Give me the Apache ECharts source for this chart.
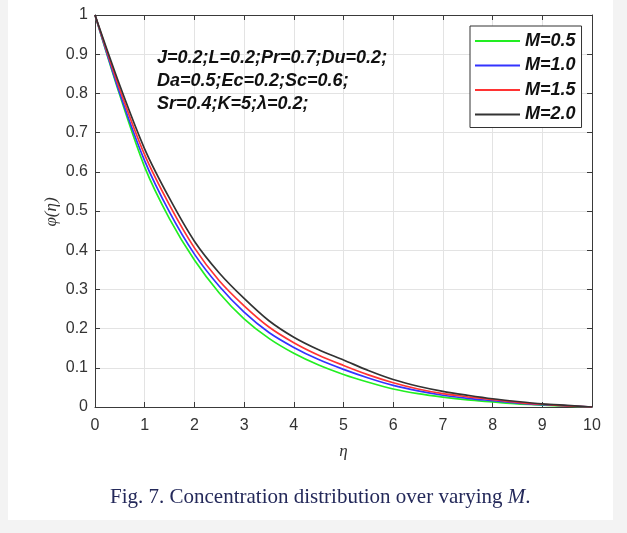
<!DOCTYPE html>
<html>
<head>
<meta charset="utf-8">
<script src="https://cdn.jsdelivr.net/npm/echarts@6/dist/echarts.min.js"></script>
<style>
  html, body { margin: 0; padding: 0; background: #f3f3f3; }
  #panel { position: absolute; left: 8px; top: 0; width: 605px; height: 520px; background: #ffffff; }
  #chart { position: absolute; left: 0; top: 0; width: 627px; height: 533px; }
</style>
</head>
<body>
<div id="panel"></div>
<div id="chart"></div>
<script>
const eta = [0, 0.5, 1, 1.5, 2, 2.5, 3, 3.5, 4, 4.5, 5, 5.5, 6, 6.5, 7, 7.5, 8, 8.5, 9, 9.5, 10];
const phiM05 = [1, 0.795, 0.612, 0.48, 0.375, 0.291, 0.225, 0.175, 0.137, 0.107, 0.083, 0.063, 0.046, 0.034, 0.025, 0.018, 0.013, 0.008, 0.005, 0.002, 0];
const phiM10 = [1, 0.80, 0.628, 0.497, 0.39, 0.308, 0.242, 0.19, 0.152, 0.121, 0.096, 0.074, 0.055, 0.041, 0.030, 0.022, 0.016, 0.010, 0.006, 0.003, 0];
const phiM15 = [1, 0.81, 0.643, 0.515, 0.406, 0.322, 0.258, 0.204, 0.164, 0.132, 0.106, 0.082, 0.062, 0.046, 0.034, 0.026, 0.019, 0.012, 0.007, 0.003, 0];
const phiM20 = [1, 0.82, 0.658, 0.532, 0.423, 0.342, 0.277, 0.22, 0.178, 0.146, 0.12, 0.093, 0.070, 0.053, 0.040, 0.030, 0.021, 0.014, 0.008, 0.004, 0];
const seriesNames = ['M=0.5', 'M=1.0', 'M=1.5', 'M=2.0'];
const seriesColors = ['#22ee22', '#3333ff', '#ff3333', '#333333'];
const xTicks = [0, 1, 2, 3, 4, 5, 6, 7, 8, 9, 10];
const yTicks = [0, 0.1, 0.2, 0.3, 0.4, 0.5, 0.6, 0.7, 0.8, 0.9, 1];
const yName = '\u03c6(\u03b7)';
const annotation = ['J=0.2;L=0.2;Pr=0.7;Du=0.2;', 'Da=0.5;Ec=0.2;Sc=0.6;', 'Sr=0.4;K=5;\u03bb=0.2;'];
const caption = 'Fig. 7. Concentration distribution over varying ';
const captionVar = 'M';

const allData = [phiM05, phiM10, phiM15, phiM20];
const axisColor = '#3a3a3a';
const labelColor = '#333333';

const chart = echarts.init(document.getElementById('chart'), null, { renderer: 'canvas' });

const baseAxis = {
  type: 'value',
  axisLine: { show: true, onZero: false, lineStyle: { color: axisColor, width: 1 } },
  axisTick: { show: true, inside: true, length: 5, lineStyle: { color: axisColor } },
  splitLine: { show: false },
};

const option = {
  animation: false,
  backgroundColor: 'transparent',
  grid: { left: 95, right: 35, top: 15, bottom: 126, containLabel: false },
  xAxis: [
    Object.assign({}, baseAxis, {
      min: xTicks[0], max: xTicks[xTicks.length - 1], interval: 1, position: 'bottom',
      axisLabel: { color: labelColor, fontSize: 16, fontFamily: 'Liberation Sans, Arial', margin: 11 },
      splitLine: { show: true, lineStyle: { color: '#e3e3e3', width: 1 } },
      name: '\u03b7', nameLocation: 'middle', nameGap: 36,
      nameTextStyle: { color: labelColor, fontSize: 17, fontStyle: 'italic', fontFamily: 'Liberation Serif, Times New Roman' }
    }),
    Object.assign({}, baseAxis, {
      min: xTicks[0], max: xTicks[xTicks.length - 1], interval: 1, position: 'top',
      axisLabel: { show: false }
    })
  ],
  yAxis: [
    Object.assign({}, baseAxis, {
      min: yTicks[0], max: yTicks[yTicks.length - 1], interval: 0.1, position: 'left',
      axisLabel: { color: labelColor, fontSize: 16, fontFamily: 'Liberation Sans, Arial', margin: 7,
        formatter: v => String(Math.round(v * 10) / 10) },
      splitLine: { show: true, lineStyle: { color: '#e3e3e3', width: 1 } }
    }),
    Object.assign({}, baseAxis, {
      min: yTicks[0], max: yTicks[yTicks.length - 1], interval: 0.1, position: 'right',
      axisLabel: { show: false }
    })
  ],
  legend: {
    data: seriesNames,
    orient: 'vertical',
    left: 470, top: 26,
    padding: [6, 6, 4, 5],
    itemWidth: 45, itemHeight: 14, itemGap: 6.5,
    backgroundColor: '#ffffff',
    borderColor: '#333333', borderWidth: 1,
    icon: 'path://M0,6 L45,6 L45,8 L0,8 Z',
    textStyle: { color: '#111111', fontSize: 18, lineHeight: 18, fontWeight: 'bold', fontStyle: 'italic', fontFamily: 'Liberation Sans, Arial' }
  },
  graphic: [
    {
      type: 'text', x: 52, y: 212, rotation: Math.PI / 2, z: 100,
      style: {
        text: yName,
        fill: labelColor,
        font: 'italic 17px "Liberation Serif", "Times New Roman"',
        align: 'center', verticalAlign: 'middle'
      }
    },
    {
      type: 'text', left: 157, top: 47, z: 100,
      style: {
        text: annotation.join('\n'),
        fill: '#111111',
        font: 'italic bold 18px "Liberation Sans", Arial',
        lineHeight: 23
      }
    },
    {
      type: 'text', left: 110, top: 487, z: 100,
      style: {
        rich: {
          n: { fontFamily: 'Liberation Serif, Times New Roman', fontSize: 21, fill: '#24295a' },
          i: { fontFamily: 'Liberation Serif, Times New Roman', fontSize: 21, fontStyle: 'italic', fill: '#24295a' }
        },
        text: '{n|' + caption + '}{i|' + captionVar + '}{n|.}'
      }
    }
  ],
  series: seriesNames.map((name, k) => ({
    name: name,
    type: 'line',
    xAxisIndex: 0, yAxisIndex: 0,
    data: eta.map((x, i) => [x, allData[k][i]]),
    showSymbol: false,
    symbol: 'none',
    smooth: 0.3,
    lineStyle: { color: seriesColors[k], width: 1.7 },
    itemStyle: { color: seriesColors[k] },
    z: 3 + k
  }))
};

chart.setOption(option);
</script>
</body>
</html>
